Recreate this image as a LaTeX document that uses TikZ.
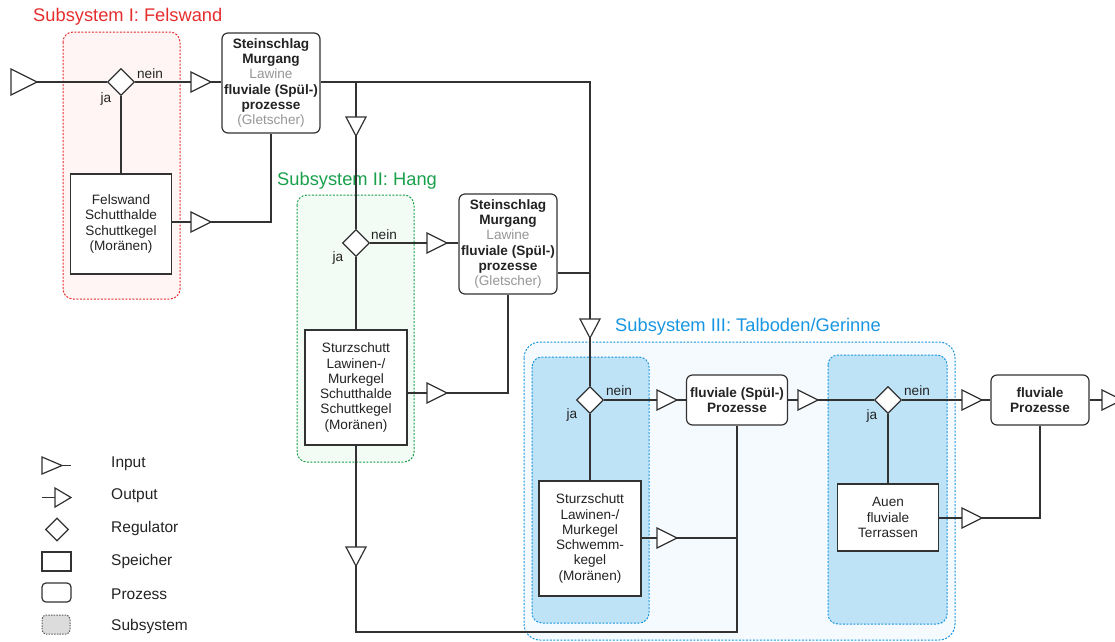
\documentclass[tikz,border=0pt]{standalone}
\usepackage{fontspec}
\setmainfont{Liberation Sans}
\usetikzlibrary{shapes.geometric}
\definecolor{ln}{RGB}{50,50,50}
\definecolor{txt}{RGB}{35,35,35}
\definecolor{gtxt}{RGB}{150,150,150}
\definecolor{redS}{RGB}{230,45,45}
\definecolor{redF}{RGB}{255,245,245}
\definecolor{grnS}{RGB}{25,160,75}
\definecolor{grnF}{RGB}{243,251,245}
\definecolor{bluS}{RGB}{25,150,225}
\definecolor{bluF}{RGB}{245,250,254}
\definecolor{bluI}{RGB}{190,227,247}
\definecolor{legF}{RGB}{220,220,220}
\newcommand\trir[3]{%
  \draw[tri] (#1,#2-10) -- (#1+20,#2) -- (#1,#2+10) -- cycle;
  \coordinate (#3-a) at (#1,#2); \coordinate (#3-b) at (#1+20,#2);}
\newcommand\trid[3]{%
  \draw[tri] (#1-10,#2) -- (#1+10,#2) -- (#1,#2+19) -- cycle;
  \coordinate (#3-a) at (#1,#2); \coordinate (#3-b) at (#1,#2+19);}
\tikzset{
  every node/.style={text=txt, font=\fontsize{13.6}{15.3}\selectfont},
  conn/.style={draw=ln, line width=1.2pt},
  tri/.style={draw=ln, fill=white, line width=1.2pt, line join=miter},
  proc/.style={draw=ln, fill=white, line width=1.2pt, rounded corners=6pt, align=center, inner sep=0pt},
  store/.style={draw=ln, fill=white, line width=1.2pt, align=center, inner sep=0pt},
  reg/.style={diamond, draw=ln, fill=white, line width=1.2pt, inner sep=0pt, minimum size=27pt},
  sub/.style={line width=1pt, dash pattern=on 2pt off 1.5pt, rounded corners=#1},
  sub/.default=10pt,
  lbl/.style={inner sep=0pt},
  title/.style={inner sep=0pt, anchor=west, font=\fontsize{18.3}{20}\selectfont},
  legtxt/.style={inner sep=0pt, anchor=west, font=\fontsize{15.5}{17}\selectfont},
}
\begin{document}
\begin{tikzpicture}[x=1pt,y=-1pt]
\useasboundingbox (0,0) rectangle (1115,641);
% subsystem backgrounds
\draw[sub, draw=redS, fill=redF] (63,32) rectangle (180,299);
\draw[sub, draw=grnS, fill=grnF] (297,195) rectangle (414,462);
\draw[sub=16pt, draw=bluS, fill=bluF] (524,342) rectangle (955,640);
\draw[sub, draw=bluS, fill=bluI] (532,357) rectangle (649,623);
\draw[sub, draw=bluS, fill=bluI] (828,355) rectangle (947,624);
\node[title, text=redS] (T1) at (33,17) {Subsystem I: Felswand};
\node[title, text=grnS] (T2) at (277,181) {Subsystem II: Hang};
\node[title, text=bluS] (T3) at (615,327) {Subsystem III: Talboden/Gerinne};

% regulators
\node[reg] (d1) at (121,82) {};
\node[reg] (d2) at (356,243) {};
\node[reg] (d3) at (590,400) {};
\node[reg] (d4) at (888,400) {};
\node[lbl] (n1) at (150,74) {nein};  \node[lbl] (j1l) at (106,99) {ja};
\node[lbl] (n2) at (384,235) {nein}; \node[lbl] (j2l) at (338,258) {ja};
\node[lbl] (n3) at (619,391) {nein}; \node[lbl] (j3l) at (572,415) {ja};
\node[lbl] (n4) at (917,391) {nein}; \node[lbl] (j4l) at (872,416) {ja};

% processes
\node[proc, minimum width=98pt, minimum height=100pt] (p1) at (271,83)
 {\textbf{Steinschlag}\\\textbf{Murgang}\\\textcolor{gtxt}{Lawine}\\\textbf{fluviale (Spül-)}\\\textbf{prozesse}\\\textcolor{gtxt}{(Gletscher)}};
\node[proc, minimum width=98pt, minimum height=100pt] (p2) at (508,244)
 {\textbf{Steinschlag}\\\textbf{Murgang}\\\textcolor{gtxt}{Lawine}\\\textbf{fluviale (Spül-)}\\\textbf{prozesse}\\\textcolor{gtxt}{(Gletscher)}};
\node[proc, minimum width=101pt, minimum height=50pt] (p3) at (737,400)
 {\textbf{fluviale (Spül-)}\\\textbf{Prozesse}};
\node[proc, minimum width=98pt, minimum height=50pt] (p4) at (1040,400)
 {\textbf{fluviale}\\\textbf{Prozesse}};

% storages
\node[store, minimum width=101pt, minimum height=100pt] (s1) at (121,224)
 {Felswand\\Schutthalde\\Schuttkegel\\(Moränen)};
\node[store, minimum width=102pt, minimum height=115pt] (s2) at (356,387.5)
 {Sturzschutt\\Lawinen-/\\Murkegel\\Schutthalde\\Schuttkegel\\(Moränen)};
\node[store, minimum width=102pt, minimum height=115pt] (s3) at (590,538.5)
 {Sturzschutt\\Lawinen-/\\Murkegel\\Schwemm-\\kegel\\(Moränen)};
\node[store, minimum width=101pt, minimum height=67pt] (s4) at (888,517.5)
 {Auen\\fluviale\\Terrassen};

% triangles
\draw[tri] (11,69) -- (37,82) -- (11,95) -- cycle;
\coordinate (in1-b) at (37,82);
\trir{191}{82}{t1}
\trir{191}{222}{t2}
\trid{590}{319}{t3}
\trid{356}{117}{t4}
\trir{427}{243}{t5}
\trir{427}{393}{t6}
\trid{356}{547}{t7}
\trir{657}{400}{t8}
\trir{657}{538}{t9}
\trir{798}{400}{t10}
\trir{962}{400}{t11}
\trir{962}{518}{t12}
\trir{1102}{400}{t13}
\coordinate (c1) at (590,82);
\coordinate (j1) at (356,82);
\coordinate (c2) at (590,273);
\coordinate (c3) at (737,632);

% connectors
\draw[conn] (in1-b) -- (d1.west);
\draw[conn] (d1.east) -- (t1-a);
\draw[conn] (t1-b) -- (t1-b -| p1.west);
\draw[conn] (d1.south) -- (s1.north);
\draw[conn] (s1.east |- t2-a) -- (t2-a);
\draw[conn] (t2-b) -| (p1.south);
\draw[conn] (p1.east |- t1-b) -- (c1) -- (t3-a);
\draw[conn] (j1) -- (t4-a);
\draw[conn] (t4-b) -- (d2.north);
\draw[conn] (t3-b) -- (d3.north);
\draw[conn] (d2.east) -- (t5-a);
\draw[conn] (t5-b) -- (t5-b -| p2.west);
\draw[conn] (d2.south) -- (s2.north);
\draw[conn] (s2.east |- t6-a) -- (t6-a);
\draw[conn] (t6-b) -| (p2.south);
\draw[conn] (p2.east |- c2) -- (c2);
\draw[conn] (s2.south) -- (t7-a);
\draw[conn] (t7-b) -- (t7-b |- c3) -- (c3) -- (p3.south);
\draw[conn] (d3.east) -- (t8-a);
\draw[conn] (t8-b) -- (t8-b -| p3.west);
\draw[conn] (d3.south) -- (s3.north);
\draw[conn] (s3.east |- t9-a) -- (t9-a);
\draw[conn] (t9-b) -- (t9-b -| p3.south);
\draw[conn] (p3.east |- t10-a) -- (t10-a);
\draw[conn] (t10-b) -- (d4.west);
\draw[conn] (d4.east) -- (t11-a);
\draw[conn] (t11-b) -- (t11-b -| p4.west);
\draw[conn] (d4.south) -- (s4.north);
\draw[conn] (s4.east |- t12-a) -- (t12-a);
\draw[conn] (t12-b) -| (p4.south);
\draw[conn] (p4.east |- t13-a) -- (t13-a);

% legend
\draw[tri] (42,457) -- (62,465.5) -- (42,474) -- cycle;
\coordinate (li-b) at (62,465.5); \coordinate (li-e) at (71,465.5);
\draw[conn] (li-b) -- (li-e);
\coordinate (lo-s) at (42,497.5); \coordinate (lo-a) at (55,497.5);
\draw[tri] (55,488) -- (71,497.5) -- (55,507) -- cycle;
\draw[conn] (lo-s) -- (lo-a);
\node[reg, minimum size=23pt] (lr) at (57,529.5) {};
\node[store, minimum width=29pt, minimum height=19pt] (ls) at (56.5,561.5) {};
\node[proc, rounded corners=4pt, minimum width=29pt, minimum height=19pt] (lp) at (56.5,592.5) {};
\node[draw=ln!80, fill=legF, line width=1pt, dash pattern=on 1.5pt off 1.2pt, rounded corners=4pt, minimum width=28pt, minimum height=19pt, inner sep=0pt] (lsub) at (56,624.5) {};
\node[legtxt] (L1) at (111,464) {Input};
\node[legtxt] (L2) at (111,496) {Output};
\node[legtxt] (L3) at (111,528) {Regulator};
\node[legtxt] (L4) at (111,561) {Speicher};
\node[legtxt] (L5) at (111,594) {Prozess};
\node[legtxt] (L6) at (111,626) {Subsystem};
\end{tikzpicture}
\end{document}
